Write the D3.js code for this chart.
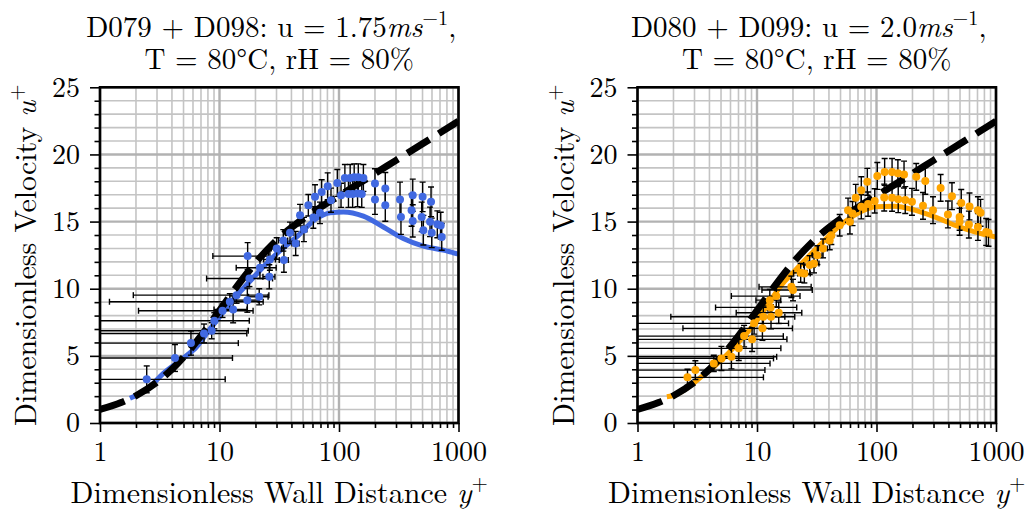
<!DOCTYPE html>
<html><head><meta charset="utf-8">
<script src="https://cdn.jsdelivr.net/npm/d3@7"></script>
<style>body{margin:0;background:#fff}</style>
</head><body><svg id="c" width="1028" height="512"></svg>
<script>
// ---------- data ----------
const xTickValues = [1, 10, 100, 1000];
const yTickValues = [0, 5, 10, 15, 20, 25];

// law of the wall (black dashed)
const lawY = [1, 1.5, 2, 3, 4, 5, 7, 10, 15, 20, 30, 50, 70, 100, 200, 300, 500, 1000];
const lawU = [1.01, 1.52, 2.03, 3.04, 4.0, 4.9, 6.49, 8.38, 10.53, 11.93, 13.6, 15.2, 16.06, 16.92, 18.58, 19.56, 20.79, 22.48];

// left panel: model curve (blue)
const modelLY = [1.78, 2.5, 3.39, 5, 6.44, 8, 10, 12.2, 15, 20, 23.3, 30, 44.3, 65, 84.1, 109, 160, 235, 345, 508, 746, 1000];
const modelLU = [1.84, 2.55, 3.7, 4.85, 5.68, 6.8, 7.9, 8.9, 9.8, 11.0, 11.63, 12.6, 13.86, 15.23, 15.65, 15.72, 15.4, 14.6, 13.74, 13.17, 12.87, 12.57];

// left panel: measured points
const ptsLY = [2.46, 4.24, 5.77, 7.42, 8.6, 9.05, 10.6, 12.2, 13.0, 13.9, 17.1, 21.5, 17.8, 21.8, 17.2, 26.1, 26.4, 30.1, 34.2, 34.6, 38.9, 43.4, 47.2, 50.9, 55.4, 61.0, 63.0, 69.3, 71.6, 80.4, 85.7, 96.8, 104,
  112, 124, 134, 145, 160, 120, 130, 143, 155, 200, 200, 244, 244, 324, 330, 414, 405, 414, 501, 492, 508, 589, 578, 597, 665, 710, 724];
const ptsLU = [3.25, 4.84, 5.95, 6.67, 6.87, 7.61, 8.36, 9.03, 8.46, 9.52, 9.15, 9.4, 10.76, 11.56, 12.43, 10.89, 12.18, 13.0, 13.6, 12.13, 14.16, 13.37, 15.48, 14.41, 16.22, 15.3, 16.84, 15.65, 17.21, 17.63, 16.59, 17.88, 16.96,
  18.25, 18.25, 18.3, 18.3, 18.25, 17.06, 17.06, 17.1, 17.06, 17.83, 16.64, 17.46, 16.22, 16.64, 15.35, 16.96, 15.85, 15.05, 16.84, 15.35, 14.36, 16.47, 14.98, 14.16, 14.8, 14.7, 13.86];
const errLX = [8.7, 8.6, 8.6, 9.5, 8.8, 8.7, 8.5, 11, 4, 12, 4, 4, 10, 8, 8.4, 3, 3, 3, 3, 3, 3, 3, 2, 3, 2, 2, 0, 0, 0, 0, 0, 0, 0,
  0, 0, 0, 0, 0, 0, 0, 0, 0, 0, 0, 0, 0, 0, 0, 0, 0, 0, 0, 0, 0, 0, 0, 0, 0, 0, 0];
const errLU = [1.0, 1.0, 0.9, 0.7, 0.6, 0.6, 0.5, 0.6, 1.0, 0.6, 0.9, 0.6, 0.6, 0.8, 1.0, 0.9, 0.8, 0.8, 0.8, 0.9, 0.8, 0.9, 0.8, 0.9, 0.8, 0.8, 0.9, 0.8, 0.9, 1.0, 0.9, 1.0, 0.9,
  1.0, 1.0, 1.0, 1.0, 1.0, 1.0, 1.0, 1.0, 1.0, 1.1, 1.1, 1.2, 1.2, 1.3, 1.3, 1.2, 1.2, 1.2, 1.1, 1.1, 1.1, 1.1, 1.1, 1.1, 1.0, 1.0, 1.0];

// right panel: model curve (orange)
const modelRY = [1.76, 2.05, 2.6, 3.43, 4.5, 5.73, 7.5, 9.59, 12.5, 16, 20, 26.7, 35, 44.7, 65.7, 96.6, 142, 209, 307, 451, 662, 1000];
const modelRU = [1.96, 2.08, 2.6, 3.45, 4.3, 5.18, 6.3, 7.42, 8.9, 10.27, 11.2, 12.37, 13.4, 14.36, 15.48, 16.1, 16.15, 15.85, 15.35, 14.73, 14.23, 13.84];

// right panel: measured points
const ptsRY = [2.62, 3.05, 4.35, 5.04, 6.11, 7.04, 7.8, 9.1, 9.46, 11.1, 11.3, 13.0, 13.1, 15.2, 14.5, 12.8, 19.4, 20.0, 23.2, 24.9, 27.6, 30.0, 32.0, 35.7, 40.6, 41.9, 49.2,
  57.8, 59.9, 67, 63, 74.6, 74.6, 83.8, 85, 96.6, 101.6, 117, 135, 151, 170, 116, 135, 152, 174, 198, 215, 256, 245, 297, 344, 396, 428, 496, 496, 512, 593, 600, 706, 743, 706, 828, 865];
const ptsRU = [3.40, 3.94, 4.44, 4.81, 4.93, 5.56, 6.47, 6.23, 7.42, 7.05, 7.91, 8.61, 7.91, 8.21, 9.45, 9.15, 10.14, 9.9, 11.18, 11.13, 11.76, 11.88, 12.5, 13.0, 13.6, 13.99, 14.73,
  15.85, 14.98, 16.77, 15.6, 17.34, 16.1, 17.96, 16.3, 16.54, 18.4, 18.7, 18.7, 18.6, 18.5, 16.79, 16.77, 16.67, 16.6, 16.47, 18.33, 18.03, 16.17, 15.85, 17.51, 15.53, 16.89, 15.35, 14.98, 16.39, 14.78, 16.13, 15.85, 15.65, 14.6, 14.23, 14.16];
const errRX = [8.7, 8.6, 8.5, 8.7, 8.5, 8.8, 8.8, 8.7, 8.9, 8.7, 9.4, 8.5, 4, 8.5, 8.4, 3, 9, 9, 3, 3, 3, 3, 3, 3, 2, 2, 2,
  0, 0, 0, 0, 0, 0, 0, 0, 0, 0, 0, 0, 0, 0, 0, 0, 0, 0, 0, 0, 0, 0, 0, 0, 0, 0, 0, 0, 0, 0, 0, 0, 0, 0, 0, 0];
const errRU = [0.6, 0.7, 0.6, 0.9, 0.9, 0.9, 0.8, 0.9, 0.8, 0.9, 0.8, 0.8, 0.9, 0.8, 0.8, 0.8, 0.8, 0.8, 0.7, 0.7, 0.7, 0.7, 0.7, 0.7, 0.7, 0.7, 0.8,
  0.9, 0.9, 1.0, 0.9, 1.0, 0.9, 1.0, 0.9, 0.9, 1.0, 1.0, 1.0, 1.0, 1.0, 1.0, 1.0, 1.0, 1.0, 1.0, 1.0, 1.0, 1.0, 1.0, 1.0, 1.0, 1.0, 1.0, 1.0, 1.0, 1.0, 1.0, 1.0, 1.0, 1.0, 1.0, 1.0];

const titleL = ["D079 + D098: u = 1.75", "T = 80°C, rH = 80%"];
const titleR = ["D080 + D099: u = 2.0", "T = 80°C, rH = 80%"];
const xLabel = "Dimensionless Wall Distance ";
const yLabel = "Dimensionless Velocity ";

// ---------- drawing ----------
const svg = d3.select("#c");
const FONT = "'Latin Modern Roman', 'CMU Serif', 'DejaVu Serif', serif";
const FS_T = 29, FS_L = 30, FS_K = 28;

function panel(id, left, right, top, bottom, color, mY, mU, pY, pU, eX, eU, title) {
  const x = d3.scaleLog().domain([1, 1000]).range([left, right]);
  const y = d3.scaleLinear().domain([0, 25]).range([bottom, top]);
  const g = svg.append("g");
  g.append("clipPath").attr("id", "clip" + id).append("rect")
    .attr("x", left).attr("y", top).attr("width", right - left).attr("height", bottom - top);

  // grid
  const minorX = [], majorX = [];
  for (let k = 0; k < 3; k++) for (let m = 1; m < 10; m++) (m === 1 ? majorX : minorX).push(m * Math.pow(10, k));
  majorX.push(1000);
  const minorY = d3.range(0, 26).filter(v => v % 5 !== 0);
  const grid = g.append("g");
  grid.selectAll(".gx").data(minorX).enter().append("line")
    .attr("x1", d => x(d)).attr("x2", d => x(d)).attr("y1", top).attr("y2", bottom)
    .attr("stroke", "#c4c4c4").attr("stroke-width", 1.6);
  grid.selectAll(".gy").data(minorY).enter().append("line")
    .attr("y1", d => y(d)).attr("y2", d => y(d)).attr("x1", left).attr("x2", right)
    .attr("stroke", "#c4c4c4").attr("stroke-width", 1.6);
  grid.selectAll(".gX").data(majorX).enter().append("line")
    .attr("x1", d => x(d)).attr("x2", d => x(d)).attr("y1", top).attr("y2", bottom)
    .attr("stroke", "#b2b2b2").attr("stroke-width", 2.4);
  grid.selectAll(".gY").data(yTickValues).enter().append("line")
    .attr("y1", d => y(d)).attr("y2", d => y(d)).attr("x1", left).attr("x2", right)
    .attr("stroke", "#b2b2b2").attr("stroke-width", 2.4);

  const plot = g.append("g").attr("clip-path", `url(#clip${id})`);
  const line = d3.line().x(d => x(d[0])).y(d => y(d[1])).curve(d3.curveMonotoneX);
  plot.append("path").datum(d3.zip(mY, mU)).attr("d", line)
    .attr("fill", "none").attr("stroke", color).attr("stroke-width", 5);
  plot.append("path").datum(d3.zip(lawY, lawU)).attr("d", line)
    .attr("fill", "none").attr("stroke", "#000").attr("stroke-width", 7)
    .attr("stroke-dasharray", "26,11");

  // error bars
  const pts = d3.zip(pY, pU, eX, eU);
  const eb = plot.append("g").attr("stroke", "#000").attr("stroke-width", 1.4).attr("fill", "none");
  const cap = 3;
  pts.forEach(([py, pu, ex, eu]) => {
    const cx = x(py), cy = y(pu);
    if (eu > 0) {
      const y1 = y(pu - eu), y2 = y(pu + eu);
      eb.append("line").attr("x1", cx).attr("x2", cx).attr("y1", y1).attr("y2", y2);
      eb.append("line").attr("x1", cx - cap).attr("x2", cx + cap).attr("y1", y1).attr("y2", y1);
      eb.append("line").attr("x1", cx - cap).attr("x2", cx + cap).attr("y1", y2).attr("y2", y2);
    }
    if (ex > 0) {
      const lo = py - ex;
      const x1 = lo > 0 ? x(lo) : left - 50, x2 = x(py + ex);
      eb.append("line").attr("x1", x1).attr("x2", x2).attr("y1", cy).attr("y2", cy);
      eb.append("line").attr("x1", x1).attr("x2", x1).attr("y1", cy - cap).attr("y2", cy + cap);
      eb.append("line").attr("x1", x2).attr("x2", x2).attr("y1", cy - cap).attr("y2", cy + cap);
    }
  });
  plot.selectAll("circle").data(pts).enter().append("circle")
    .attr("cx", d => x(d[0])).attr("cy", d => y(d[1])).attr("r", 4).attr("fill", color);

  // axes
  g.append("g").attr("transform", `translate(0,${bottom})`)
    .call(d3.axisBottom(x).tickValues(xTickValues).tickFormat(d3.format("d")).tickSize(9).tickPadding(9));
  g.append("g").attr("transform", `translate(0,${bottom})`)
    .call(d3.axisBottom(x).tickValues(minorX).tickFormat("").tickSize(5));
  g.append("g").attr("transform", `translate(${left},0)`)
    .call(d3.axisLeft(y).tickValues(yTickValues).tickSize(10).tickPadding(10));
  g.append("g").attr("transform", `translate(${left},0)`)
    .call(d3.axisLeft(y).tickValues(minorY).tickFormat("").tickSize(5.5));
  g.selectAll(".domain").remove();
  g.selectAll(".tick line").attr("stroke", "#000").attr("stroke-width", 1.6);
  g.selectAll(".tick text").attr("font-size", FS_K).style("font-family", FONT).attr("fill", "#000");
  g.append("rect").attr("x", left).attr("y", top).attr("width", right - left).attr("height", bottom - top)
    .attr("fill", "none").attr("stroke", "#000").attr("stroke-width", 2.6);

  const cx = (left + right) / 2;
  const t1 = g.append("text").attr("x", cx - 8).attr("y", 36.5).attr("text-anchor", "middle")
    .attr("font-size", FS_T).style("font-family", FONT);
  t1.append("tspan").text(title[0]);
  t1.append("tspan").attr("font-style", "italic").text("ms");
  t1.append("tspan").attr("font-size", FS_T * 0.7).attr("dy", -12).text("−1");
  t1.append("tspan").attr("dy", 12).text(",");
  g.append("text").attr("x", cx).attr("y", 68.5).attr("text-anchor", "middle")
    .attr("font-size", FS_T).style("font-family", FONT).text(title[1]);

  const xl = g.append("text").attr("x", cx).attr("y", 503).attr("text-anchor", "middle")
    .attr("font-size", FS_L).style("font-family", FONT);
  xl.append("tspan").text(xLabel);
  xl.append("tspan").attr("font-style", "italic").text("y");
  xl.append("tspan").attr("font-size", FS_L * 0.7).attr("dy", -13).text("+");

  const yl = g.append("text").attr("transform", `translate(${left - 64},${(top + bottom) / 2}) rotate(-90)`)
    .attr("text-anchor", "middle").attr("font-size", FS_L).style("font-family", FONT);
  yl.append("tspan").text(yLabel);
  yl.append("tspan").attr("font-style", "italic").text("u");
  yl.append("tspan").attr("font-size", FS_L * 0.7).attr("dy", -13).text("+");
}

panel("L", 100, 458.5, 87.3, 423, "#4169E1", modelLY, modelLU, ptsLY, ptsLU, errLX, errLU, titleL);
panel("R", 637.5, 996, 87.3, 423, "#FFA500", modelRY, modelRU, ptsRY, ptsRU, errRX, errRU, titleR);
</script></body></html>
